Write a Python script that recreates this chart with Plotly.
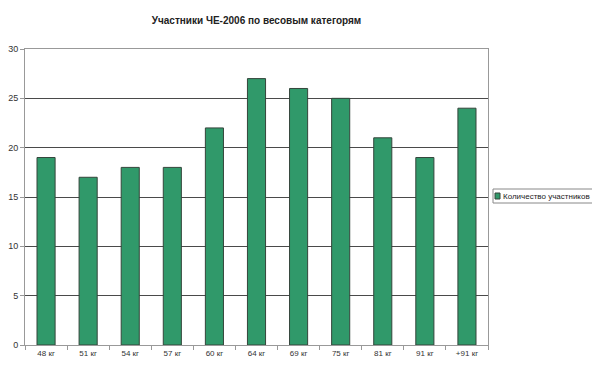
import plotly.graph_objects as go

categories = ["48 кг", "51 кг", "54 кг", "57 кг", "60 кг", "64 кг", "69 кг", "75 кг", "81 кг", "91 кг", "+91 кг"]
participants = [19, 17, 18, 18, 22, 27, 26, 25, 21, 19, 24]
series_name = "Количество участников"
title_text = "Участники ЧЕ-2006 по весовым категорям"
y_ticks = [0, 5, 10, 15, 20, 25, 30]

BAR_FILL = "#30996a"
BAR_LINE = "#34453b"

# page has an 8px body margin; figure is sized to fit the 600x373 window
OFF = 8
FW, FH = 600 - OFF, 373 - OFF
L, T, W, PH = 25 - OFF, 49 - OFF, 463, 296

def px(x):
    return (x - OFF - L) / W
def py(y):
    return (T + PH - (y - OFF)) / PH

fig = go.Figure()
fig.add_trace(go.Bar(
    x=categories, y=participants, name=series_name,
    marker=dict(color=BAR_FILL, line=dict(color=BAR_LINE, width=1)),
    showlegend=False,
))

# compact legend box like the original
fig.add_shape(type="rect", xref="paper", yref="paper",
              x0=px(493), x1=px(597), y0=py(203), y1=py(189),
              line=dict(color="#888", width=1), fillcolor="white")
fig.add_shape(type="rect", xref="paper", yref="paper",
              x0=px(495), x1=px(500), y0=py(199), y1=py(193),
              line=dict(color=BAR_LINE, width=1), fillcolor=BAR_FILL)
fig.add_annotation(text=series_name, xref="paper", yref="paper",
                   x=px(501), y=py(196), xanchor="left", yanchor="middle",
                   showarrow=False, font=dict(size=8, color="#222"))

fig.update_layout(
    width=FW, height=FH,
    paper_bgcolor="white", plot_bgcolor="white",
    margin=dict(l=L, r=FW - L - W, t=T, b=FH - T - PH, autoexpand=False),
    bargap=0.57,
    font=dict(family="Liberation Sans, Arial, sans-serif", size=9, color="#333"),
    title=dict(text="<b>" + title_text + "</b>", x=0.5, xref="paper",
               y=1 - (20 - OFF) / FH, yanchor="middle", xanchor="center",
               font=dict(size=10, color="#222")),
    xaxis=dict(showline=True, linecolor="#999", linewidth=1, mirror=True,
               ticks="outside", tickson="boundaries", ticklen=4, tickcolor="#999",
               showgrid=False, tickfont=dict(size=8, color="#333")),
    yaxis=dict(range=[0, 30], tickvals=y_ticks, showline=True, linecolor="#999",
               linewidth=1, mirror=True, ticks="outside", ticklen=4, tickcolor="#999",
               showgrid=True, gridcolor="#4a4a4a", gridwidth=1, zeroline=False,
               tickfont=dict(size=9, color="#333")),
)

fig.write_html("out.html")
